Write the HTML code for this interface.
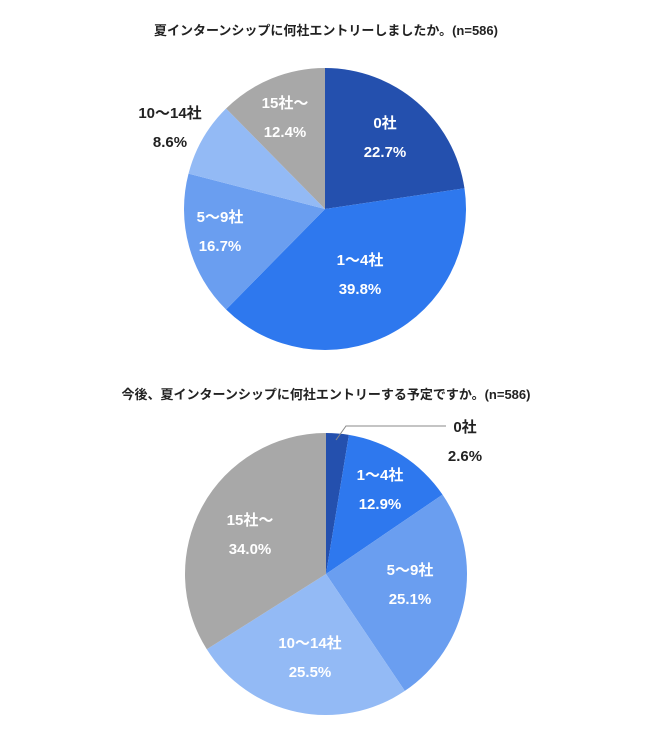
<!DOCTYPE html>
<html><head><meta charset="utf-8"><style>
body{margin:0;background:#fff;}
svg text{font-family:"Liberation Sans","Noto Sans CJK JP",sans-serif;font-weight:bold;}
</style></head><body>
<svg width="650" height="731">
<text x="326" y="35" text-anchor="middle" font-size="13" fill="#222">夏インターンシップに何社エントリーしましたか。(n=586)</text>
<g id="pie1"></g>
<text x="326" y="399" text-anchor="middle" font-size="13" fill="#222">今後、夏インターンシップに何社エントリーする予定ですか。(n=586)</text>
<g id="pie2"></g>
<polyline points="336,440 346,426 446,426" fill="none" stroke="#888" stroke-width="1"/>
</svg>
<script>
const categories=["0社","1～4社","5～9社","10～14社","15社～"];
const values1=[22.7,39.8,16.7,8.6,12.4];
const values2=[2.6,12.9,25.1,25.5,34.0];
const colors=["#2450ae","#2e78ee","#6a9ef0","#93baf5","#a8a8a8"];
const labelPos1=[[385,128],[360,265],[220,222],[170,118],[285,108]];
const labelOut1=[false,false,false,true,false];
const labelPos2=[[465,432],[380,480],[410,575],[310,648],[250,525]];
const labelOut2=[true,false,false,false,false];
const NS="http://www.w3.org/2000/svg";
function draw(id,vals,cx,cy,r,lp,out,tag){
  const g=document.getElementById(id);
  const tot=vals.reduce((a,b)=>a+b,0);
  let a=0;
  vals.forEach((v,i)=>{
    const a0=a/tot*2*Math.PI,a1=(a+v)/tot*2*Math.PI;a+=v;
    const x0=cx+r*Math.sin(a0),y0=cy-r*Math.cos(a0),x1=cx+r*Math.sin(a1),y1=cy-r*Math.cos(a1);
    const p=document.createElementNS(NS,"path");
    p.setAttribute("d",`M${cx},${cy}L${x0},${y0}A${r},${r} 0 ${a1-a0>Math.PI?1:0} 1 ${x1},${y1}Z`);
    p.setAttribute("fill",colors[i]);
    
    
    g.appendChild(p);
    [categories[i],v.toFixed(1)+"%"].forEach((s,k)=>{
      const t=document.createElementNS(NS,"text");
      t.setAttribute("x",lp[i][0]);t.setAttribute("y",lp[i][1]+k*29);
      t.setAttribute("text-anchor","middle");t.setAttribute("font-size","15");
      t.setAttribute("fill",out[i]?"#222":"#fff");
      t.textContent=s;
      
      
      g.appendChild(t);
    });
  });
}
draw("pie1",values1,325,209,141,labelPos1,labelOut1,"chart1");
draw("pie2",values2,326,574,141,labelPos2,labelOut2,"chart2");
</script>
</body></html>
